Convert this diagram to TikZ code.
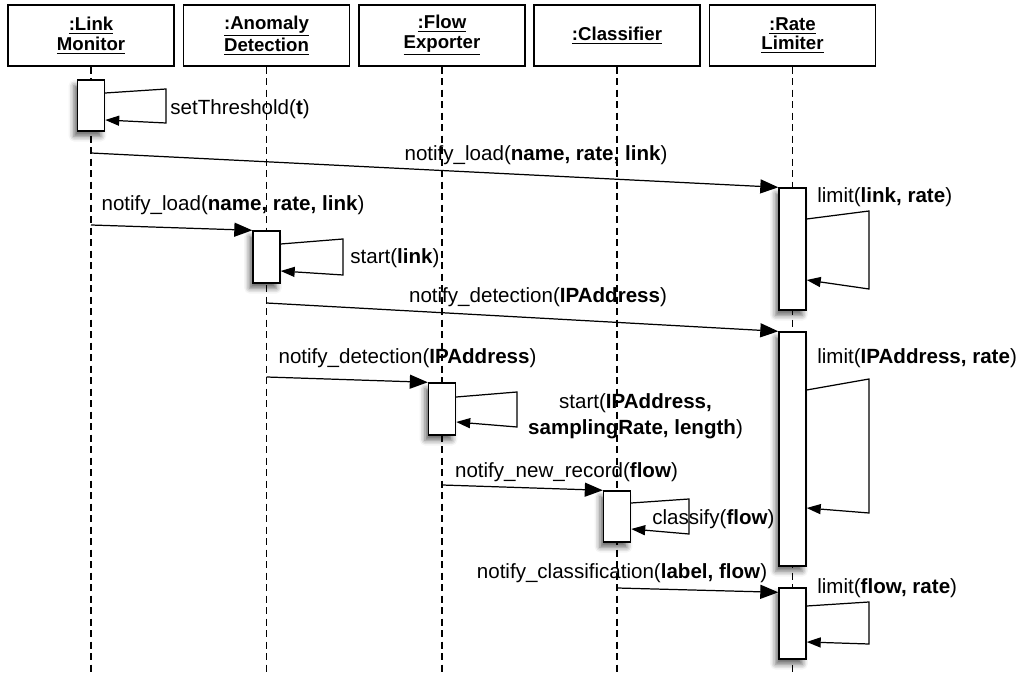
\documentclass[tikz,border=0pt]{standalone}
\usepackage{fontspec}
\setmainfont{Liberation Sans}
\usetikzlibrary{arrows.meta,shadows.blur}
\tikzset{
  obj/.style={draw, line width=0.8pt, minimum width=3.32cm, minimum height=1.22cm, align=center, inner sep=0pt, font=\fontsize{10.6}{11.2}\selectfont\bfseries},
  act/.style={draw, line width=0.8pt, fill=white, minimum width=0.54cm, inner sep=0pt,
    blur shadow={shadow xshift=-2pt, shadow yshift=-3pt, shadow blur radius=3pt, shadow opacity=60}},
  lifeline/.style={line width=0.7pt, dash pattern=on 0.14cm off 0.09cm},
  msg/.style={line width=0.7pt, -{Triangle[length=0.36cm,width=0.28cm]}},
  self/.style={line width=0.7pt, -{Triangle[length=0.28cm,width=0.2cm]}},
  lbl/.style={font=\fontsize{11.7}{15}\selectfont, inner sep=0pt},
}
\begin{document}
\begin{tikzpicture}[x=0.02cm, y=-0.02cm]
\useasboundingbox (0,0) rectangle (1019,675);
% objects
\node(lm) at (91,35.5) [obj] {\underline{:Link}\\\underline{Monitor}};
\node(ad) at (266.5,35.5) [obj] {\underline{:Anomaly}\\\underline{Detection}};
\node(fe) at (442,35.5) [obj] {\underline{:Flow}\\\underline{Exporter}};
\node(cl) at (617,35.5) [obj] {\underline{:Classifier}};
\node(rl) at (792.5,35.5) [obj] {\underline{:Rate}\\\underline{Limiter}};
% lifelines
\foreach \o in {lm,ad,fe,cl,rl}
  \draw[lifeline] (\o.south) -- (\o |- 0,675);
% activations
\node(lma) at (lm |- 0,105.5) [act, minimum height=1.02cm] {};
\node(ada) at (ad |- 0,257) [act, minimum height=1.04cm] {};
\node(fea) at (fe |- 0,409) [act, minimum height=1.04cm] {};
\node(cla) at (cl |- 0,516.5) [act, minimum height=1.02cm] {};
\node(rla1) at (rl |- 0,249) [act, minimum height=2.44cm] {};
\node(rla2) at (rl |- 0,449) [act, minimum height=4.68cm] {};
\node(rla3) at (rl |- 0,623.5) [act, minimum height=1.42cm] {};
% messages
\draw[msg] (lm |- 0,153) -- (rla1.north west);
\draw[msg] (lm |- 0,225) -- (ada.north west);
\draw[msg] (ad |- 0,303) -- (rla2.north west);
\draw[msg] (ad |- 0,377) -- (fea.north west);
\draw[msg] (fe |- 0,485) -- (cla.north west);
\draw[msg] (cl |- 0,588) -- ([yshift=-0.1cm]rla3.north west);
% self calls
\draw[self] (lma.east |- 0,93) -- (166,89) -- (166,123) -- (lma.east |- 0,120);
\draw[self] (ada.east |- 0,244) -- (343,239) -- (343,275) -- (ada.east |- 0,271);
\draw[self] (rla1.east |- 0,219) -- (869,211) -- (869,289) -- (rla1.east |- 0,280);
\draw[self] (rla2.east |- 0,390) -- (869,379) -- (869,513) -- (rla2.east |- 0,508);
\draw[self] (fea.east |- 0,397) -- (517,392) -- (517,427) -- (fea.east |- 0,422);
\draw[self] (cla.east |- 0,503) -- (689,499) -- (689,534) -- (cla.east |- 0,529);
\draw[self] (rla3.east |- 0,606) -- (869,602) -- (869,644) -- (rla3.east |- 0,642);
% labels
\node(l1) at (536,155) [lbl] {notify\_load(\textbf{name, rate, link})};
\node(l2) at (233,205) [lbl] {notify\_load(\textbf{name, rate, link})};
\node(l3) at (538,297) [lbl] {notify\_detection(\textbf{IPAddress})};
\node(l4) at (407.5,358) [lbl] {notify\_detection(\textbf{IPAddress})};
\node(l5) at (566.5,472) [lbl] {notify\_new\_record(\textbf{flow})};
\node(l6) at (622,573) [lbl] {notify\_classification(\textbf{label, flow})};
\node(s1) at (170,109) [lbl, anchor=west] {setThreshold(\textbf{t})};
\node(s2) at (350,258) [lbl, anchor=west] {start(\textbf{link})};
\node(s3) at (817,197) [lbl, anchor=west] {limit(\textbf{link, rate})};
\node(s4) at (817,358) [lbl, anchor=west] {limit(\textbf{IPAddress, rate})};
\node(s5) at (635.5,416) [lbl, align=center] {start(\textbf{IPAddress,}\\\textbf{samplingRate, length})};
\node(s6) at (652,519) [lbl, anchor=west] {classify(\textbf{flow})};
\node(s7) at (817,588) [lbl, anchor=west] {limit(\textbf{flow, rate})};
\end{tikzpicture}
\end{document}
